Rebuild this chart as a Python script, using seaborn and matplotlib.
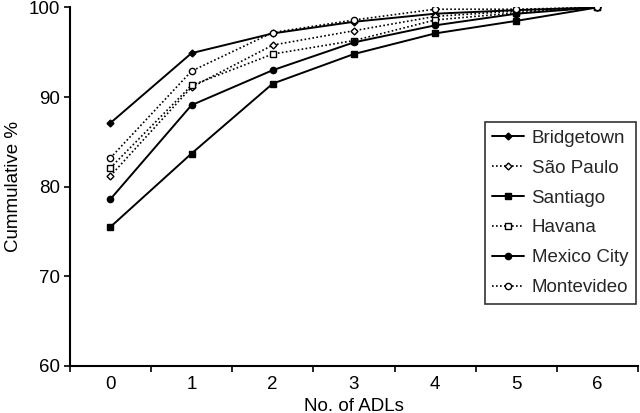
import numpy as np
import pandas as pd
import matplotlib
matplotlib.use("Agg")
import matplotlib.pyplot as plt
import seaborn as sns

adls = [0, 1, 2, 3, 4, 5, 6]
cities = ["Bridgetown", "São Paulo", "Santiago", "Havana", "Mexico City", "Montevideo"]
bridgetown = [87.1, 94.9, 97.1, 98.4, 99.3, 99.7, 100.0]
sao_paulo = [81.2, 91.1, 95.8, 97.4, 99.0, 99.6, 100.0]
santiago = [75.5, 83.7, 91.5, 94.8, 97.1, 98.5, 100.0]
havana = [82.1, 91.3, 94.8, 96.3, 98.6, 99.4, 100.0]
mexico_city = [78.6, 89.1, 93.0, 96.1, 98.0, 99.3, 100.0]
montevideo = [83.2, 92.9, 97.2, 98.6, 99.8, 99.8, 100.0]

values = [bridgetown, sao_paulo, santiago, havana, mexico_city, montevideo]
df = pd.DataFrame({
    "ADL": adls * len(cities),
    "City": np.repeat(cities, len(adls)),
    "Pct": np.concatenate(values),
})

sns.set_theme(style="ticks")
plt.rcParams["font.family"] = ["Liberation Sans", "DejaVu Sans"]

# marker, filled, dotted, size
styles = {
    "Bridgetown": ("D", True, False, 3.5),
    "São Paulo": ("D", False, True, 3.5),
    "Santiago": ("s", True, False, 4.5),
    "Havana": ("s", False, True, 4.5),
    "Mexico City": ("o", True, False, 4.5),
    "Montevideo": ("o", False, True, 4.5),
}

fig = plt.figure(figsize=(6.4, 4.13), dpi=100)
ax = fig.add_axes([0.109, 0.114, 0.888, 0.868])

for city in cities:
    m, filled, dotted, ms = styles[city]
    sub = df[df["City"] == city]
    sns.lineplot(data=sub, x="ADL", y="Pct", ax=ax, color="black",
                 linewidth=1.4 if not dotted else 1.2,
                 linestyle=(0, (1.0, 1.4)) if dotted else "-",
                 marker=m, markersize=ms,
                 markerfacecolor="black" if filled else "white",
                 markeredgecolor="black", markeredgewidth=1.0,
                 label=city)

ax.set_xlim(-0.5, 6.5)
ax.set_ylim(60, 100)
ax.set_xticks(adls)
ax.set_xticks(np.arange(-0.5, 7, 1), minor=True)
ax.set_yticks([60, 70, 80, 90, 100])
ax.tick_params(axis="x", which="major", length=0, labelsize=13.5, pad=7)
ax.tick_params(axis="x", which="minor", length=4, width=1.2, direction="out", color="black")
ax.tick_params(axis="y", length=4, width=1.2, direction="out", labelsize=13.5, color="black", pad=3)
for lab in ax.get_xticklabels() + ax.get_yticklabels():
    lab.set_color("black")
sns.despine(ax=ax)
for s in ["left", "bottom"]:
    ax.spines[s].set_linewidth(1.5)
    ax.spines[s].set_color("black")

ax.set_xlabel("No. of ADLs", fontsize=13.5, color="black", labelpad=3.5)
ax.set_ylabel("Cummulative %", fontsize=13.5, color="black", labelpad=5)

leg = ax.legend(loc="upper left", bbox_to_anchor=(0.73, 0.68), fontsize=13.5,
                frameon=True, fancybox=False, handlelength=1.7,
                handletextpad=0.4, borderpad=0.4, labelspacing=0.68,
                borderaxespad=0)
leg.get_frame().set_edgecolor("black")
leg.get_frame().set_linewidth(1.2)

fig.savefig("out.png", dpi=100)
